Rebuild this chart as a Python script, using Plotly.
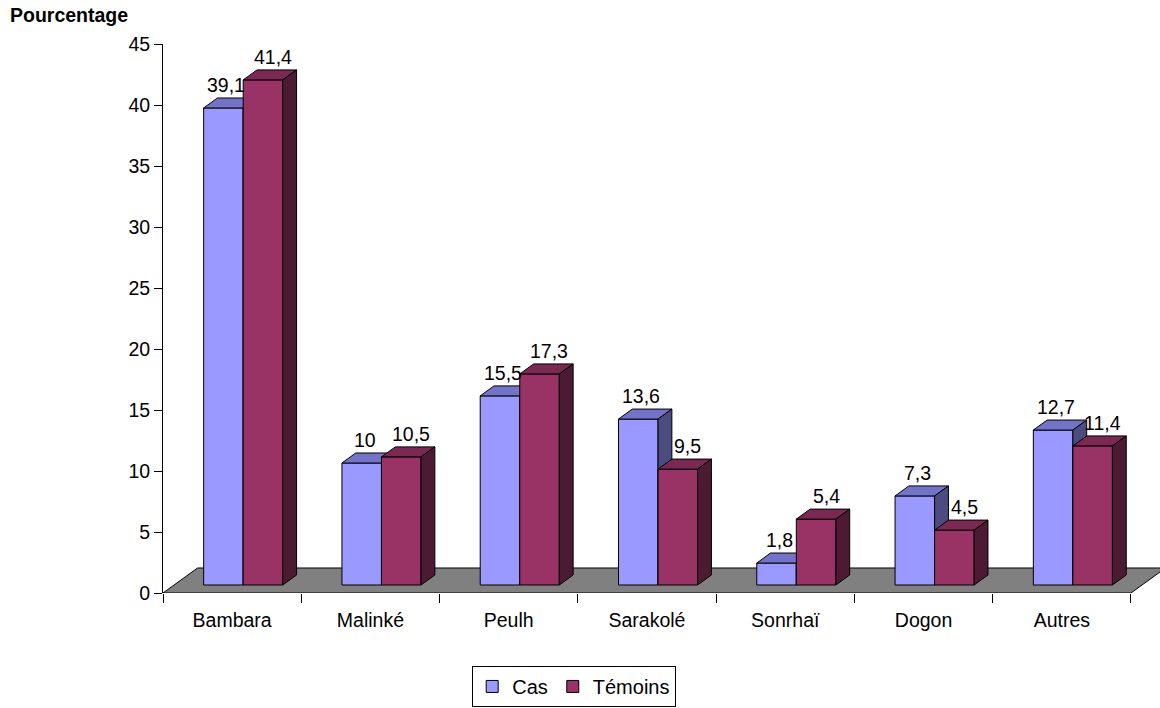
import plotly.graph_objects as go

# ---- data -------------------------------------------------------------
categories = ["Bambara", "Malinké", "Peulh", "Sarakolé", "Sonrhaï", "Dogon", "Autres"]
cas = [39.1, 10, 15.5, 13.6, 1.8, 7.3, 12.7]
temoins = [41.4, 10.5, 17.3, 9.5, 5.4, 4.5, 11.4]
y_ticks = list(range(0, 50, 5))

# ---- pseudo-3D projection (x in category units, y in value units) -----
FLOOR_DX, FLOOR_DY = 0.25, 2.05   # depth vector of the floor slab
BAR_FRONT = 0.32                   # bars stand this far back on the floor
BAR_DEPTH = 0.40                   # bar depth, as a share of floor depth
BAR_W = 0.286                      # width of one bar
BAR_START = 0.214                  # gap before the first bar of a group
X_MAX = 7.21                       # right end of the visible x range

FONT = "Liberation Sans, Arial, sans-serif"
TXT = 19.5

series = [
    dict(name="Cas", values=cas, front="#9999FF", top="#7373C8", side="#4C4C80", xshift=-4),
    dict(name="Témoins", values=temoins, front="#993366", top="#7A2952", side="#4D1A33", xshift=3),
]


def fmt(v):
    return f"{v:g}".replace(".", ",")


def add_poly(acc, xs, ys):
    acc[0].extend(xs + [xs[0], None])
    acc[1].extend(ys + [ys[0], None])


def bar_faces(values, slot):
    """Front, top and side polygons of every bar of one series."""
    ox, oy = BAR_FRONT * FLOOR_DX, BAR_FRONT * FLOOR_DY
    dx, dy = BAR_DEPTH * FLOOR_DX, BAR_DEPTH * FLOOR_DY
    front, top, side = ([], []), ([], []), ([], [])
    label_pts = []
    for i, v in enumerate(values):
        x0 = i + BAR_START + slot * BAR_W + ox
        x1 = x0 + BAR_W
        b, t = oy, oy + v
        add_poly(front, [x0, x1, x1, x0], [b, b, t, t])
        add_poly(top, [x0, x1, x1 + dx, x0 + dx], [t, t, t + dy, t + dy])
        add_poly(side, [x1, x1 + dx, x1 + dx, x1], [b, b + dy, t + dy, t])
        label_pts.append(((x0 + x1) / 2 + dx / 2, t + dy))
    return front, top, side, label_pts


fig = go.Figure()

# floor slab
n = len(categories)
fig.add_trace(go.Scatter(
    x=[0, n, n + FLOOR_DX, FLOOR_DX, 0],
    y=[0, 0, FLOOR_DY, FLOOR_DY, 0],
    mode="lines", fill="toself", fillcolor="#808080",
    line=dict(color="black", width=1), hoverinfo="skip", showlegend=False,
))

annotations = []
for slot, s in enumerate(series):
    front, top, side, pts = bar_faces(s["values"], slot)
    for poly, col in ((front, s["front"]), (top, s["top"]), (side, s["side"])):
        fig.add_trace(go.Scatter(
            x=poly[0], y=poly[1], mode="lines", fill="toself", fillcolor=col,
            line=dict(color="black", width=1), hoverinfo="skip",
            showlegend=False, legendgroup=s["name"],
        ))
    for (px, py), v in zip(pts, s["values"]):
        annotations.append(dict(
            x=px, y=py, text=fmt(v), showarrow=False, xanchor="center",
            yanchor="bottom", xshift=s["xshift"],
            font=dict(family=FONT, size=TXT, color="black"),
        ))

# legend entries
for s in series:
    fig.add_trace(go.Scatter(
        x=[None], y=[None], mode="markers", name=s["name"], legendgroup=s["name"],
        marker=dict(symbol="square", size=12, color=s["front"],
                    line=dict(color="black", width=1)),
    ))

fig.update_layout(
    width=1160, height=708,
    margin=dict(l=163, r=0, t=44, b=115),
    paper_bgcolor="white", plot_bgcolor="white",
    font=dict(family=FONT, size=TXT, color="black"),
    title=dict(text="<b>Pourcentage</b>", xref="container", yref="container",
               x=0.0086, y=0.978, xanchor="left", yanchor="middle",
               font=dict(family=FONT, size=TXT, color="black")),
    xaxis=dict(
        range=[0, X_MAX], showgrid=False, zeroline=False, showline=False,
        tickmode="array", tickvals=[i + 0.5 for i in range(n)], ticktext=categories,
        ticks="", ticklabelstandoff=13,
        tickfont=dict(family=FONT, size=TXT, color="black"),
        minor=dict(tickmode="array", tickvals=list(range(n + 1)), ticks="outside",
                   ticklen=9, tickcolor="black", tickwidth=1, showgrid=False),
    ),
    yaxis=dict(
        range=[0, 45], tickmode="array", tickvals=y_ticks,
        showgrid=False, zeroline=False, showline=True, linecolor="black", linewidth=1,
        ticks="outside", ticklen=8, tickcolor="black",
        tickfont=dict(family=FONT, size=TXT, color="black"),
    ),
    legend=dict(
        orientation="h", xref="container", yref="container",
        x=0.495, y=0.0015, xanchor="center", yanchor="bottom",
        bordercolor="black", borderwidth=1, bgcolor="white",
        font=dict(family=FONT, size=20, color="black"), itemwidth=30,
        tracegroupgap=0,
    ),
    annotations=annotations,
    showlegend=True,
)

fig.write_html("out.html")
